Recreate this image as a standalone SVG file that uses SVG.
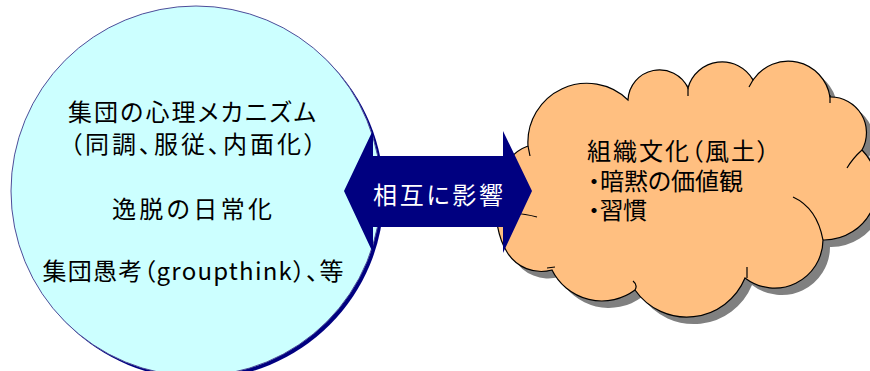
<svg xmlns="http://www.w3.org/2000/svg" width="870" height="371" viewBox="0 0 870 371">
<style>
  .t { font-family: "Noto Sans CJK JP", "Noto Sans", sans-serif; font-size: 24px; fill: #000; font-feature-settings: "palt"; }
  .w { fill: #ffffff; }
  .cloud { fill: #FFBF80; stroke: #000; stroke-width: 1.2; }
  .tick { fill: none; stroke: #000; stroke-width: 1.2; }
</style>
<defs>
  <path id="cloudShape" d="M528,146 A59,59 0 0 1 628,100 A31.5,31.5 0 0 1 688,88 A35.4,35.4 0 0 1 753,80 A42.3,42.3 0 0 1 830,97 A35.7,35.7 0 0 1 862,150 A53,53 0 0 1 823,240 A48.4,48.4 0 0 1 745,278 A63,63 0 0 1 635,290 A55.6,55.6 0 0 1 552,270 A40,40 0 0 1 507,252 C490,225 488,160 528,146 Z"/>
</defs>
<rect width="870" height="371" fill="#fff"/>

<g id="group-mind">
  <circle cx="199" cy="194" r="185" fill="#000080"/>
  <circle cx="196" cy="191" r="185" fill="#CCFFFF" stroke="#4d4d99" stroke-width="1"/>
  <text class="t" x="192" y="121" text-anchor="middle" textLength="248" lengthAdjust="spacing">集団の心理メカニズム</text>
  <text class="t" x="193" y="153" text-anchor="middle" textLength="246" lengthAdjust="spacing">（同調、服従、内面化）</text>
  <text class="t" x="192" y="218" text-anchor="middle" textLength="160" lengthAdjust="spacing">逸脱の日常化</text>
  <text class="t" x="193" y="280" text-anchor="middle" textLength="301" lengthAdjust="spacing">集団愚考（groupthink）、等</text>
</g>

<g id="org-culture">
  <use href="#cloudShape" transform="translate(7,7)" fill="#808080"/>
  <use href="#cloudShape" class="cloud"/>
  <path class="tick" d="M528,146 L530,156 M688,88 L688,96 M753,80 L749,87 M830,95 L830,103 M862,150 Q853,158 847,168 M823,240 Q817,208 793,197 M747,278 L747,267 M635,290 Q638,285 633,281 M547,268 L555,267 M512,213 Q526,214 537,217"/>
  <text class="t" x="587" y="160" textLength="182" lengthAdjust="spacing">組織文化（風土）</text>
  <text class="t" x="588" y="190" textLength="155" lengthAdjust="spacing">・暗黙の価値観</text>
  <text class="t" x="588" y="219" textLength="59" lengthAdjust="spacing">・習慣</text>
</g>

<g id="connectors">
  <polygon points="344,191 373,130 373,156 503,156 503,131 532,191 503,253 503,227 373,227 373,253" fill="#000080"/>
  <text class="t w" x="438" y="204" text-anchor="middle" textLength="130" lengthAdjust="spacing">相互に影響</text>
</g>
</svg>
